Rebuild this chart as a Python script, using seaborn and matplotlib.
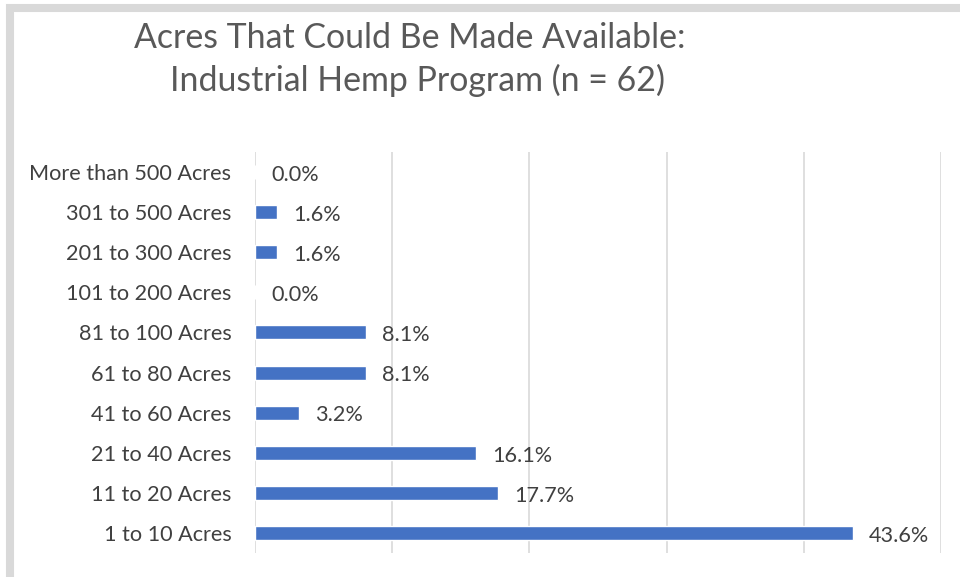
import matplotlib
matplotlib.use("Agg")
import matplotlib.pyplot as plt
from matplotlib.patches import Rectangle
import seaborn as sns
import pandas as pd

categories = [
    "More than 500 Acres",
    "301 to 500 Acres",
    "201 to 300 Acres",
    "101 to 200 Acres",
    "81 to 100 Acres",
    "61 to 80 Acres",
    "41 to 60 Acres",
    "21 to 40 Acres",
    "11 to 20 Acres",
    "1 to 10 Acres",
]
percent = [0.0, 1.6, 1.6, 0.0, 8.1, 8.1, 3.2, 16.1, 17.7, 43.6]
title_lines = ["Acres That Could Be Made Available:", "Industrial Hemp Program (n = 62)"]

df = pd.DataFrame({"category": categories, "percent": percent})

sns.set_theme(style="white")
plt.rcParams["font.family"] = ["Lato", "DejaVu Sans"]

fig = plt.figure(figsize=(9.6, 5.77), dpi=100)
W, H = 960, 577

# outer chart frame (partially cut off at right and bottom)
fig.patches.append(Rectangle((10 / W, -0.1), 1.2, 1 - 7.5 / H + 0.1,
                             transform=fig.transFigure, fill=False,
                             edgecolor="#d9d9d9", linewidth=5.8))

ax = fig.add_axes([255 / W, 1 - 553 / H, (941 - 255) / W, (553 - 152) / H])
sns.barplot(data=df, y="category", x="percent", orient="h", color="#4472c4",
            width=0.35, saturation=1, ax=ax, order=categories)

ax.set_xlim(0, 50)
ax.set_xticks(range(0, 51, 10))
ax.set_xticklabels([])
ax.grid(axis="x", color="#d9d9d9", linewidth=1.2)
ax.set_axisbelow(True)
for s in ax.spines.values():
    s.set_visible(False)
ax.tick_params(axis="both", length=0)
ax.set_xlabel("")
ax.set_ylabel("")
ax.set_ylim(len(categories) - 0.5, -0.5)
for lbl in ax.get_yticklabels():
    lbl.set_color("#404040")
    lbl.set_fontsize(15.6)
ax.tick_params(axis="y", pad=17)

for i, v in enumerate(percent):
    ax.annotate(f"{v:.1f}%", xy=(v, i), xytext=(11.5, -2), textcoords="offset points",
                ha="left", va="center", fontsize=15.6, color="#404040")

fig.text(410 / W, 1 - 38 / H, title_lines[0], ha="center", va="center",
         fontsize=24.4, color="#595959")
fig.text(418 / W, 1 - 80 / H, title_lines[1], ha="center", va="center",
         fontsize=24.4, color="#595959")

fig.savefig("out.png", dpi=100, facecolor="white")
